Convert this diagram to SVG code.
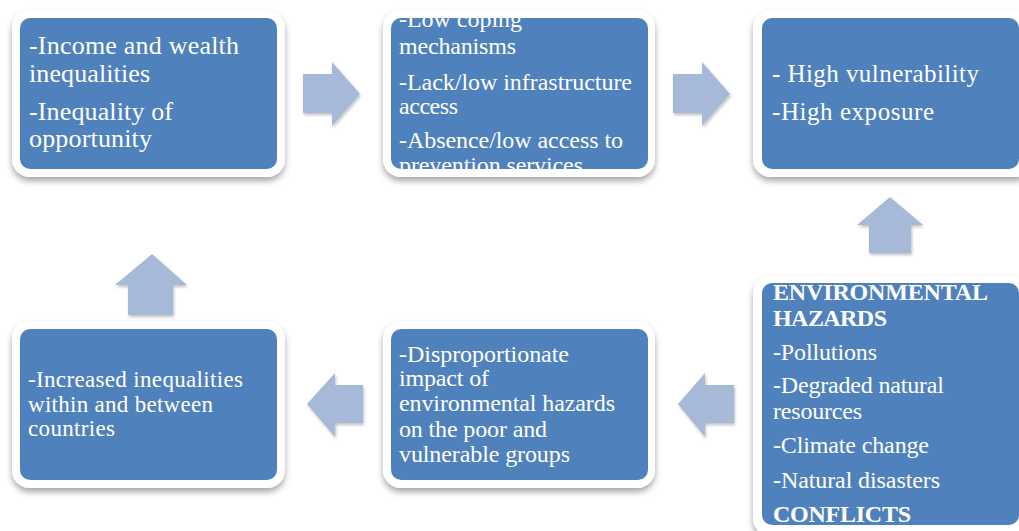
<svg xmlns="http://www.w3.org/2000/svg" width="1019" height="531" viewBox="0 0 1019 531">
<defs>
<filter id="sh" x="-10%" y="-10%" width="120%" height="130%">
<feDropShadow dx="0" dy="4" stdDeviation="3" flood-color="#000" flood-opacity="0.35"/>
</filter>
<filter id="ash" x="-20%" y="-20%" width="140%" height="140%">
<feDropShadow dx="1" dy="2" stdDeviation="1.5" flood-color="#000" flood-opacity="0.25"/>
</filter>
<clipPath id="c1"><rect x="20" y="18" width="257" height="151" rx="10"/></clipPath>
<clipPath id="c2"><rect x="391" y="18" width="257" height="151" rx="10"/></clipPath>
<clipPath id="c3"><rect x="762" y="18" width="257" height="151" rx="10"/></clipPath>
<clipPath id="c4"><rect x="762" y="283" width="257" height="242" rx="10"/></clipPath>
<clipPath id="c5"><rect x="391" y="329" width="257" height="151" rx="10"/></clipPath>
<clipPath id="c6"><rect x="20" y="329" width="257" height="151" rx="10"/></clipPath>
</defs>
<style>
.outer{fill:#fff;filter:url(#sh)}
.inner{fill:#4F81BD}
.t{font-family:"Liberation Serif","Times New Roman",serif;font-size:24px;fill:#fff}
.b{font-weight:bold}
.arr{fill:#A7B9D9;filter:url(#ash)}
</style>
<rect width="1019" height="531" fill="#fff"/>
<g id="connectors">
<polygon class="arr" points="303,74 332,74 332,62 360,94 332,126 332,113 303,113"/>
<polygon class="arr" points="673,74 702,74 702,62 730,94 702,126 702,113 673,113"/>
<polygon class="arr" points="869,253 869,225 857,225 890,197 923,225 911,225 911,253"/>
<polygon class="arr" points="734,385 705,385 705,373 678,404 705,437 705,423 734,423"/>
<polygon class="arr" points="363,385 335,385 335,373 307,404 335,437 335,423 363,423"/>
<polygon class="arr" points="128,315 128,285 115,285 152,254 187,285 173,285 173,315"/>
</g>
<g id="node1">
<rect class="outer" x="12" y="10" width="273" height="167" rx="18"/>
<rect class="inner" x="20" y="18" width="257" height="151" rx="10"/>
<g clip-path="url(#c1)" class="t" style="font-size:26px">
<text x="29" y="54" textLength="210" lengthAdjust="spacing">-Income and wealth</text>
<text x="29" y="82" textLength="121" lengthAdjust="spacing">inequalities</text>
<text x="29" y="120" textLength="144" lengthAdjust="spacing">-Inequality of</text>
<text x="29" y="147" textLength="123" lengthAdjust="spacing">opportunity</text>
</g>
</g>
<g id="node2">
<rect class="outer" x="383" y="10" width="272" height="167" rx="18"/>
<rect class="inner" x="391" y="18" width="257" height="151" rx="10"/>
<g clip-path="url(#c2)" class="t">
<text x="399" y="27" textLength="123" lengthAdjust="spacing">-Low coping</text>
<text x="399" y="54" textLength="117" lengthAdjust="spacing">mechanisms</text>
<text x="399" y="90" textLength="233" lengthAdjust="spacing">-Lack/low infrastructure</text>
<text x="399" y="114" textLength="59" lengthAdjust="spacing">access</text>
<text x="399" y="148" textLength="224" lengthAdjust="spacing">-Absence/low access to</text>
<text x="399" y="173" textLength="184" lengthAdjust="spacing">prevention services</text>
</g>
</g>
<g id="node3">
<rect class="outer" x="753" y="10" width="280" height="167" rx="18"/>
<rect class="inner" x="762" y="18" width="257" height="151" rx="10"/>
<g clip-path="url(#c3)" class="t" style="font-size:25px">
<text x="772" y="82" textLength="207" lengthAdjust="spacing">- High vulnerability</text>
<text x="772" y="120" textLength="162" lengthAdjust="spacing">-High exposure</text>
</g>
</g>
<g id="node4">
<rect class="outer" x="753" y="276" width="280" height="260" rx="18"/>
<rect class="inner" x="762" y="283" width="257" height="242" rx="10"/>
<g clip-path="url(#c4)" class="t">
<text class="b" x="773" y="300" textLength="215" lengthAdjust="spacing">ENVIRONMENTAL</text>
<text class="b" x="773" y="326" textLength="114" lengthAdjust="spacing">HAZARDS</text>
<text x="773" y="360" textLength="104" lengthAdjust="spacing">-Pollutions</text>
<text x="773" y="393" textLength="171" lengthAdjust="spacing">-Degraded natural</text>
<text x="773" y="419" textLength="89" lengthAdjust="spacing">resources</text>
<text x="773" y="453" textLength="156" lengthAdjust="spacing">-Climate change</text>
<text x="773" y="488" textLength="167" lengthAdjust="spacing">-Natural disasters</text>
<text class="b" x="773" y="522" textLength="138" lengthAdjust="spacing">CONFLICTS</text>
</g>
</g>
<g id="node5">
<rect class="outer" x="383" y="321" width="272" height="167" rx="18"/>
<rect class="inner" x="391" y="329" width="257" height="151" rx="10"/>
<g clip-path="url(#c5)" class="t">
<text x="399" y="362" textLength="170" lengthAdjust="spacing">-Disproportionate</text>
<text x="399" y="386" textLength="90" lengthAdjust="spacing">impact of</text>
<text x="399" y="411" textLength="216" lengthAdjust="spacing">environmental hazards</text>
<text x="399" y="437" textLength="148" lengthAdjust="spacing">on the poor and</text>
<text x="399" y="462" textLength="171" lengthAdjust="spacing">vulnerable groups</text>
</g>
</g>
<g id="node6">
<rect class="outer" x="12" y="321" width="273" height="167" rx="18"/>
<rect class="inner" x="20" y="329" width="257" height="151" rx="10"/>
<g clip-path="url(#c6)" class="t" style="font-size:23px">
<text x="28" y="387" textLength="215" lengthAdjust="spacing">-Increased inequalities</text>
<text x="28" y="412" textLength="185" lengthAdjust="spacing">within and between</text>
<text x="28" y="436" textLength="87" lengthAdjust="spacing">countries</text>
</g>
</g>
</svg>
